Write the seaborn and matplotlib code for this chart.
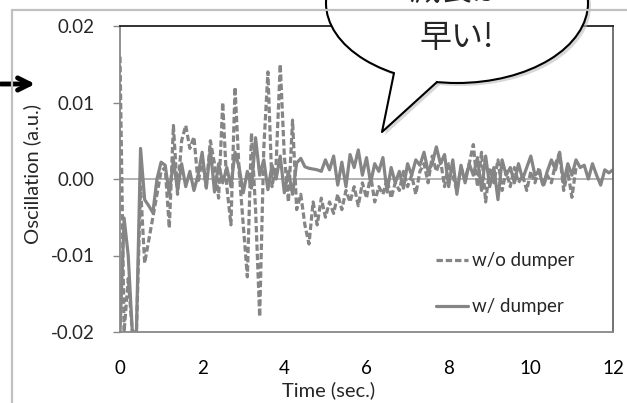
import numpy as np
import pandas as pd
import matplotlib.pyplot as plt
import seaborn as sns
from matplotlib.patches import Ellipse, Polygon, FancyArrowPatch
from matplotlib.lines import Line2D

# time axis (sec.), one sample every 0.1 s
time = [round(0.1 * i, 1) for i in range(121)]

# oscillation without dumper (dashed) - trace stops near 11.1 s
wo_dumper = [
    0.0160, -0.0200, -0.0130, -0.0200, -0.0200, -0.0010, -0.0110, -0.0080, -0.0050, -0.0020,
    0.0010, 0.0015, -0.0064, 0.0070, -0.0020, 0.0050, 0.0070, 0.0040, 0.0055, -0.0005,
    0.0025, -0.0010, 0.0050, 0.0020, -0.0025, 0.0100, -0.0010, -0.0060, 0.0120, 0.0010,
    -0.0060, -0.0128, 0.0060, -0.0040, -0.0180, 0.0040, 0.0140, -0.0010, 0.0020, 0.0150,
    0.0030, -0.0030, 0.0077, -0.0040, -0.0020, -0.0060, -0.0085, -0.0030, -0.0060, -0.0025,
    -0.0050, -0.0030, -0.0045, -0.0020, -0.0040, -0.0015, -0.0030, -0.0010, -0.0035, -0.0005,
    -0.0025, 0.0005, -0.0030, -0.0010, -0.0020, 0.0000, -0.0025, -0.0005, -0.0015, 0.0010,
    -0.0010, 0.0005, -0.0020, 0.0010, 0.0020, -0.0005, 0.0030, 0.0010, 0.0025, -0.0010,
    0.0020, 0.0005, -0.0015, 0.0015, 0.0000, 0.0020, 0.0045, -0.0010, 0.0035, -0.0030,
    0.0015, -0.0005, 0.0025, -0.0015, 0.0010, -0.0010, 0.0015, -0.0005, 0.0005, -0.0015,
    0.0010, -0.0005, 0.0015, -0.0010, 0.0005, -0.0005, 0.0020, 0.0034, -0.0015, 0.0010,
    -0.0024, 0.0015,
]

# oscillation with dumper (solid)
w_dumper = [
    -0.0200, -0.0051, -0.0100, -0.0200, -0.0200, 0.0040, -0.0027, -0.0035, -0.0044, 0.0000,
    0.0022, 0.0018, -0.0020, 0.0025, -0.0015, 0.0020, -0.0010, 0.0010, -0.0015, 0.0005,
    0.0035, -0.0012, 0.0040, -0.0017, 0.0020, -0.0005, 0.0015, -0.0010, 0.0035, 0.0015,
    -0.0018, 0.0010, -0.0012, 0.0054, 0.0005, 0.0025, -0.0014, 0.0018, 0.0000, 0.0030,
    -0.0018, 0.0010, -0.0020, 0.0021, 0.0027, 0.0016, 0.0014, 0.0013, 0.0012, 0.0010,
    0.0025, 0.0012, 0.0030, -0.0008, 0.0022, -0.0010, 0.0032, 0.0015, 0.0038, 0.0005,
    0.0028, -0.0005, 0.0020, 0.0010, 0.0028, -0.0017, 0.0015, -0.0005, 0.0010, -0.0012,
    0.0020, 0.0005, 0.0025, 0.0018, 0.0035, 0.0010, 0.0020, 0.0042, 0.0020, 0.0032,
    -0.0010, 0.0025, -0.0020, 0.0018, -0.0005, 0.0020, 0.0005, 0.0028, -0.0015, 0.0030,
    -0.0010, 0.0015, -0.0027, 0.0025, 0.0005, 0.0015, -0.0005, 0.0020, 0.0000, 0.0015,
    0.0030, 0.0005, 0.0010, -0.0008, 0.0010, 0.0025, 0.0012, 0.0035, -0.0005, 0.0020,
    0.0005, 0.0025, 0.0015, 0.0018, 0.0000, 0.0020, 0.0005, -0.0008, 0.0012, 0.0008,
    0.0012,
]

x_ticks = [0, 2, 4, 6, 8, 10, 12]
y_ticks = [-0.02, -0.01, 0.00, 0.01, 0.02]
y_tick_labels = ["-0.02", "-0.01", "0.00", "0.01", "0.02"]
series_labels = ["w/o dumper", "w/ dumper"]

W, H = 627, 403


def fx(px):
    # pixel x -> figure fraction
    return px / W


def fy(py):
    # pixel y (from top) -> figure fraction
    return 1 - py / H


sns.set_style("white")
plt.rcParams['font.family'] = ['Lato', 'Noto Sans CJK JP', 'DejaVu Sans']

fig = plt.figure(figsize=(6.27, 4.03), dpi=100)
ax = fig.add_axes([fx(120), fy(332), fx(613) - fx(120), fy(26) - fy(332)])

line_color = '#858585'

sns.lineplot(x=time[:len(wo_dumper)], y=wo_dumper, ax=ax, color=line_color,
             linewidth=2.3, label=series_labels[0], sort=False)
ax.lines[-1].set_dashes([2.0, 0.9])
sns.lineplot(x=time, y=w_dumper, ax=ax, color=line_color,
             linewidth=2.3, label=series_labels[1], sort=False)

ax.axhline(0, color='#a6a6a6', linewidth=1.2, zorder=0)

ax.set_xlim(0, 12)
ax.set_ylim(-0.02, 0.02)
ax.set_xticks(x_ticks)
ax.set_yticks(y_ticks)
ax.set_yticklabels(y_tick_labels)
ax.tick_params(axis='x', length=0, pad=20, labelsize=13.5, colors='black')
ax.tick_params(axis='y', left=True, length=5, width=1, color='#888888',
               pad=13, labelsize=13.5)

ax.spines['top'].set_color('#222222')
ax.spines['right'].set_color('#666666')
ax.spines['left'].set_color('#888888')
ax.spines['bottom'].set_color('#888888')
for side in ['top', 'right', 'left', 'bottom']:
    ax.spines[side].set_linewidth(1.3)

ax.set_xlabel("Time (sec.)", fontsize=14.5)
ax.set_ylabel("Oscillation (a.u.)", fontsize=14.5)
ax.xaxis.set_label_coords(0.424, -0.16)
ax.yaxis.set_label_coords(-0.16, 0.515)

ax.legend(loc='upper left', bbox_to_anchor=(fx(427), fy(243)),
          bbox_transform=fig.transFigure, frameon=False, fontsize=13.5,
          handlelength=1.7, handletextpad=0.2, labelspacing=1.55, borderpad=0)

# light frame of the slide chart box
fig.add_artist(Line2D([fx(12), fx(12)], [fy(10), 0], transform=fig.transFigure,
                      color='#c0c0c0', linewidth=1.6))
fig.add_artist(Line2D([fx(12), 1], [fy(10), fy(10)], transform=fig.transFigure,
                      color='#c0c0c0', linewidth=1.6))

# arrow at the left edge
fig.add_artist(FancyArrowPatch((fx(-2), fy(84)), (fx(38), fy(84)),
                               transform=fig.transFigure, arrowstyle='->',
                               mutation_scale=22, linewidth=3.5, color='black'))

# speech bubble
cx, cy, bw, bh = 457, 3, 262, 160
tail = [(394, 73), (382, 132), (437, 82)]
off = 3
shadow_e = Ellipse((fx(cx + off), fy(cy + off)), bw / W, bh / H,
                   transform=fig.transFigure, facecolor='#bdbdbd', edgecolor='none',
                   alpha=0.6)
shadow_t = Polygon([(fx(x + off), fy(y + off)) for x, y in tail + [(420, 60)]],
                   closed=True, transform=fig.transFigure, facecolor='#bdbdbd',
                   edgecolor='none', alpha=0.6)
fig.add_artist(shadow_e)
fig.add_artist(shadow_t)

bubble = Ellipse((fx(cx), fy(cy)), bw / W, bh / H, transform=fig.transFigure,
                 facecolor='white', edgecolor='black', linewidth=1.5)
fig.add_artist(bubble)
fill_pts = tail + [(425, 70), (400, 66)]
fig.add_artist(Polygon([(fx(x), fy(y)) for x, y in fill_pts], closed=True,
                       transform=fig.transFigure, facecolor='white', edgecolor='none'))
fig.add_artist(Line2D([fx(x) for x, y in tail], [fy(y) for x, y in tail],
                      transform=fig.transFigure, color='black', linewidth=1.5))

# the first line runs off the top edge, as in the original slide crop
fig.text(fx(457), fy(38), "早い!", ha='center', va='center', fontsize=23,
         family=['Noto Sans CJK JP', 'DejaVu Sans'])
fig.text(fx(457), fy(-8), "減衰が", ha='center', va='center', fontsize=23,
         family=['Noto Sans CJK JP', 'DejaVu Sans'])

fig.savefig("out.png", dpi=100)
